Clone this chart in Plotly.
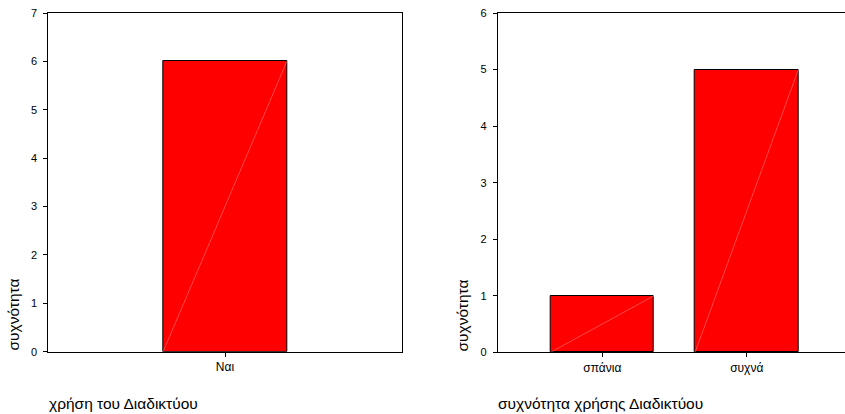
import plotly.graph_objects as go

# Data
left_categories = ["Ναι"]
left_values = [6]
right_categories = ["σπάνια", "συχνά"]
right_values = [1, 5]

left_xtitle = "χρήση του Διαδικτύου"
right_xtitle = "συχνότητα χρήσης Διαδικτύου"
y_title = "συχνότητα"

W, H = 845, 414
FONT = "Liberation Sans, Arial, sans-serif"
BAR_RED = "#ff0000"
DIAG = "rgba(255,160,160,0.75)"

left_width = 0.35
right_width = 0.715

left_pos = list(range(len(left_categories)))
right_pos = list(range(len(right_categories)))

fig = go.Figure()

fig.add_trace(go.Bar(x=left_pos, y=left_values, width=left_width,
                     marker=dict(color=BAR_RED, line=dict(color="black", width=1)),
                     customdata=left_categories, hovertemplate="%{customdata}: %{y}<extra></extra>",
                     xaxis="x", yaxis="y", showlegend=False))
fig.add_trace(go.Bar(x=right_pos, y=right_values, width=right_width,
                     marker=dict(color=BAR_RED, line=dict(color="black", width=1)),
                     customdata=right_categories, hovertemplate="%{customdata}: %{y}<extra></extra>",
                     xaxis="x2", yaxis="y2", showlegend=False))

# faint diagonal inside each bar (bottom-left to top-right)
for i, v in zip(left_pos, left_values):
    fig.add_trace(go.Scatter(x=[i - left_width / 2, i + left_width / 2], y=[0, v],
                             mode="lines", line=dict(color=DIAG, width=0.6),
                             xaxis="x", yaxis="y", showlegend=False, hoverinfo="skip"))
for i, v in zip(right_pos, right_values):
    fig.add_trace(go.Scatter(x=[i - right_width / 2, i + right_width / 2], y=[0, v],
                             mode="lines", line=dict(color=DIAG, width=0.6),
                             xaxis="x2", yaxis="y2", showlegend=False, hoverinfo="skip"))

def px(x):
    return x / W

def py(y):
    return 1 - y / H

axis_common = dict(showgrid=False, zeroline=False, linecolor="black", linewidth=1,
                   ticks="outside", ticklen=4, tickcolor="black", automargin=False,
                   fixedrange=True)
xtick_font = dict(family=FONT, size=12, color="black")
ytick_font = dict(family=FONT, size=11, color="black")
title_font = dict(family=FONT, size=15.5, color="black")

fig.update_layout(
    template="none",
    width=W, height=H,
    margin=dict(l=0, r=0, t=0, b=0, pad=0),
    paper_bgcolor="white", plot_bgcolor="white",
    font=dict(family=FONT, color="black"),
    bargap=0,
    xaxis=dict(axis_common, domain=[px(48.3), px(401.7)], anchor="y",
               tickmode="array", tickvals=left_pos, ticktext=left_categories,
               range=[-0.5, 0.5], mirror=True, tickfont=xtick_font),
    yaxis=dict(axis_common, domain=[py(351.7), py(13)], anchor="x",
               range=[0, 7], dtick=1, tick0=0, mirror=True, ticklabelstandoff=4,
               tickfont=ytick_font),
    xaxis2=dict(axis_common, domain=[px(497.7), 1.0], anchor="y2",
                tickmode="array", tickvals=right_pos, ticktext=right_categories,
                range=[-0.724, 1.68], mirror=True, tickfont=xtick_font),
    yaxis2=dict(axis_common, domain=[py(352.3), py(13)], anchor="x2",
                range=[0, 6], dtick=1, tick0=0, ticklabelstandoff=4,
                tickfont=ytick_font),
    annotations=[
        dict(text=y_title, textangle=-90, x=px(12.5), y=py(353), xref="paper", yref="paper",
             xanchor="center", yanchor="bottom", showarrow=False, font=title_font),
        dict(text=y_title, textangle=-90, x=px(461.5), y=py(353), xref="paper", yref="paper",
             xanchor="center", yanchor="bottom", showarrow=False, font=title_font),
        dict(text=left_xtitle, x=px(47), y=py(403), xref="paper", yref="paper",
             xanchor="left", yanchor="middle", showarrow=False, font=title_font),
        dict(text=right_xtitle, x=px(495.5), y=py(403), xref="paper", yref="paper",
             xanchor="left", yanchor="middle", showarrow=False, font=title_font),
    ],
)

post = ("document.documentElement.style.margin='0';document.documentElement.style.padding='0';"
        "document.documentElement.style.overflow='hidden';"
        "document.body.style.margin='0';document.body.style.padding='0';"
        "document.body.style.overflow='hidden';")
fig.write_html("out.html", post_script=post)
